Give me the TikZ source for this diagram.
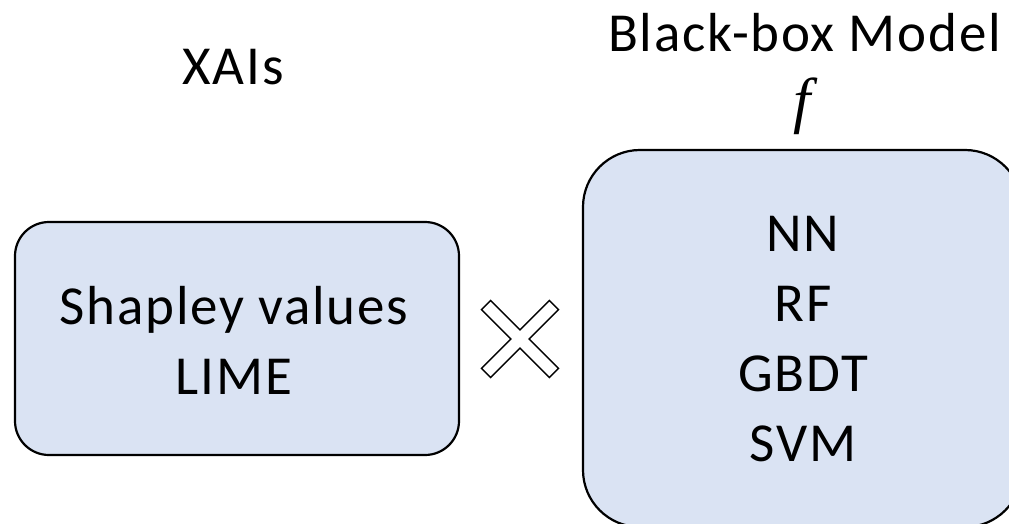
\documentclass[tikz,border=0pt]{standalone}
\usepackage{fontspec}
\setmainfont{Carlito}[LetterSpace=3.2]
\newfontfamily\fitalic{Liberation Serif}
\definecolor{boxfill}{RGB}{218,227,243}
\begin{document}
\begin{tikzpicture}[x=1pt,y=-1pt,
  bigtext/.style={font=\fontsize{55}{70}\selectfont, inner sep=0pt, align=center},
  mbox/.style={draw=black, line width=2.2pt, fill=boxfill, inner sep=0pt}]
\useasboundingbox (0,0) rectangle (1009,524);
\clip (0,0) rectangle (1009,524);
% boxes
\node[mbox, rounded corners=34pt, minimum width=444pt, minimum height=233pt] (xai) at (237,338.5) {};
\node[mbox, rounded corners=57pt, minimum width=439pt, minimum height=377pt] (bb) at (802.5,338.5) {};
% box contents
\node[bigtext] (xaitext) at (234,340) {Shapley values\\LIME};
\node[bigtext] (bbtext) at (803,339) {NN\\RF\\GBDT\\SVM};
% titles
\node[bigtext, anchor=base] (xaititle) at (233,85) {XAIs};
\node[bigtext, anchor=base] (bbtitle) at (804.5,52) {Black-box Model};
\node[inner sep=0pt, anchor=base, font=\fontsize{62}{70}\selectfont\fitalic\itshape] (ftitle) at (802,122) {f};
% cross
\begin{scope}[shift={(520,339)}, rotate=45]
\draw[line width=1.4pt, line join=miter]
  (6.5,48) -- (-6.5,48) -- (-6.5,6.5) -- (-48,6.5) -- (-48,-6.5) -- (-6.5,-6.5)
  -- (-6.5,-48) -- (6.5,-48) -- (6.5,-6.5) -- (48,-6.5) -- (48,6.5) -- (6.5,6.5) -- cycle;
\end{scope}
\end{tikzpicture}
\end{document}
